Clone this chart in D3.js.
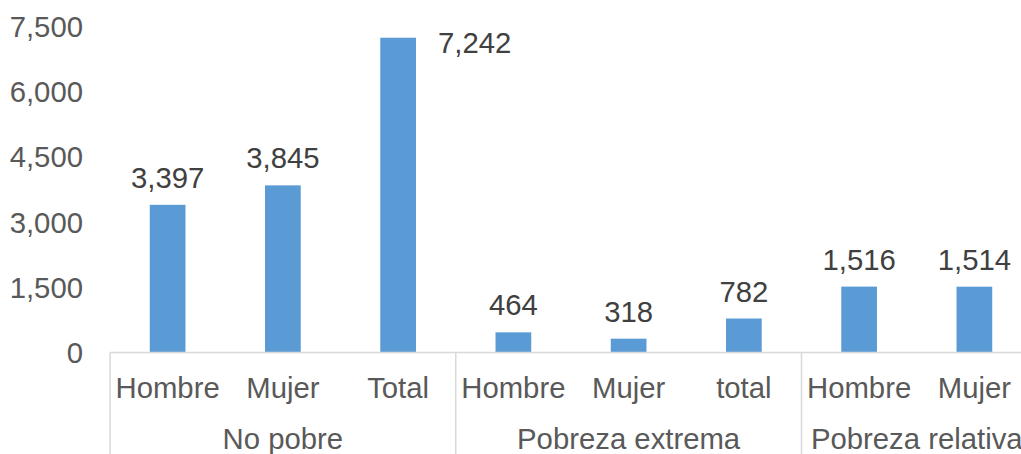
<!DOCTYPE html>
<html>
<head>
<meta charset="utf-8">
<script src="https://cdn.jsdelivr.net/npm/d3@7"></script>
<style>
  html, body { margin: 0; padding: 0; background: #fff; }
  svg { display: block; overflow: hidden; }
  text { font-family: "Liberation Sans", Arial, sans-serif; font-size: 29.3px; }
  .tick-label { fill: #595959; }
  .cat-label { fill: #595959; }
  .data-label { fill: #404040; }
</style>
</head>
<body>
<svg id="chart" width="1021" height="454"></svg>
<script>
// data
const groups = ['No pobre', 'Pobreza extrema', 'Pobreza relativa'];
const categories = ['Hombre', 'Mujer', 'Total', 'Hombre', 'Mujer', 'total', 'Hombre', 'Mujer'];
const groupOf = [0, 0, 0, 1, 1, 1, 2, 2];
const values = [3397, 3845, 7242, 464, 318, 782, 1516, 1514];
const yTicks = [0, 1500, 3000, 4500, 6000, 7500];

// config
const X0 = 110, X1 = 1032;
const Y0 = 352.5, Y1 = 26.5;
const BOTTOM = 454;
const GRID = '#d9d9d9';
const BAR = '#5b9bd5';
const fmt = d3.format(',d');

const svg = d3.select('#chart');
const idx = d3.range(categories.length);

const x = d3.scaleBand()
  .domain(idx)
  .range([X0, X1])
  .paddingInner(0.69)
  .paddingOuter(0.345);

const y = d3.scaleLinear().domain([0, 7500]).range([Y0, Y1]);

// y tick labels
svg.append('g')
  .selectAll('text')
  .data(yTicks)
  .enter()
  .append('text')
  .attr('class', 'tick-label')
  .attr('x', 83)
  .attr('y', d => y(d))
  .attr('dy', '0.36em')
  .attr('text-anchor', 'end')
  .text(d => fmt(d));

// bars
svg.append('g')
  .selectAll('rect')
  .data(idx)
  .enter()
  .append('rect')
  .attr('x', i => x(i))
  .attr('y', i => y(values[i]))
  .attr('width', x.bandwidth())
  .attr('height', i => Y0 - y(values[i]))
  .attr('fill', BAR);

// data labels (outside end, pushed right when no room above)
const noRoom = i => y(values[i]) - 45 < 0;
svg.append('g')
  .selectAll('text')
  .data(idx)
  .enter()
  .append('text')
  .attr('class', 'data-label')
  .attr('text-anchor', i => (noRoom(i) ? 'start' : 'middle'))
  .attr('x', i => (noRoom(i) ? x(i) + x.bandwidth() + 22 : x(i) + x.bandwidth() / 2))
  .attr('y', i => (noRoom(i) ? y(values[i]) + 15 : y(values[i]) - 17))
  .text(i => fmt(values[i]));

// category axis
const axis = svg.append('g');
axis.append('line')
  .attr('x1', X0).attr('x2', X1)
  .attr('y1', Y0).attr('y2', Y0)
  .attr('stroke', GRID).attr('stroke-width', 1.5);

// group boundaries
const step = x.step();
const bounds = [0];
groups.forEach((g, gi) => {
  const n = groupOf.filter(v => v === gi).length;
  bounds.push(bounds[bounds.length - 1] + n);
});
axis.selectAll('line.sep')
  .data(bounds)
  .enter()
  .append('line')
  .attr('class', 'sep')
  .attr('x1', b => X0 + b * step)
  .attr('x2', b => X0 + b * step)
  .attr('y1', Y0)
  .attr('y2', BOTTOM)
  .attr('stroke', GRID)
  .attr('stroke-width', 1.5);

axis.selectAll('text.cat')
  .data(idx)
  .enter()
  .append('text')
  .attr('class', 'cat-label cat')
  .attr('x', i => x(i) + x.bandwidth() / 2)
  .attr('y', 398)
  .attr('text-anchor', 'middle')
  .text(i => categories[i]);

axis.selectAll('text.grp')
  .data(groups)
  .enter()
  .append('text')
  .attr('class', 'cat-label grp')
  .attr('x', (g, gi) => X0 + (bounds[gi] + bounds[gi + 1]) / 2 * step)
  .attr('y', 449)
  .attr('text-anchor', 'middle')
  .text(g => g);
</script>
</body>
</html>
